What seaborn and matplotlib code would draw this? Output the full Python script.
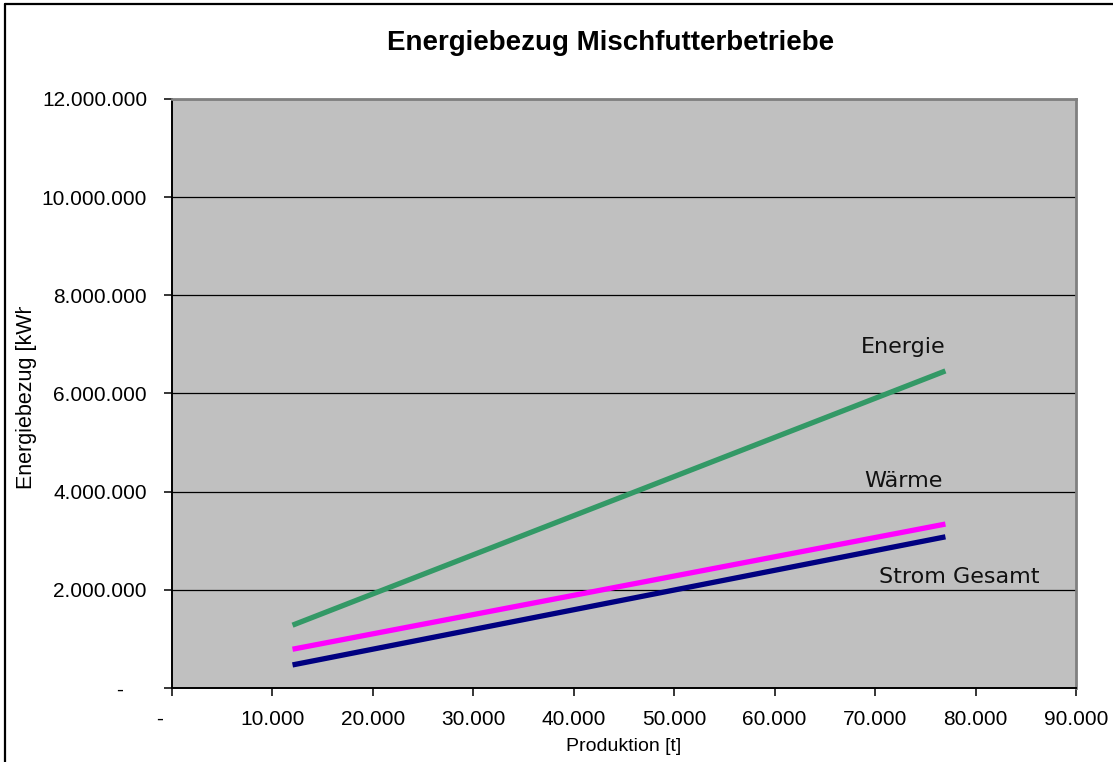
import matplotlib
matplotlib.use("Agg")
import matplotlib.pyplot as plt
from matplotlib.ticker import FuncFormatter, MultipleLocator
from matplotlib.patches import Rectangle
from matplotlib.lines import Line2D
import seaborn as sns
import pandas as pd

# Production volume (t) and energy demand (kWh) per series
produktion = [12000, 77000]
energie = [1280000, 6460000]
waerme = [790000, 3340000]
strom = [470000, 3080000]

series_names = ["Energie", "Wärme", "Strom Gesamt"]
series_values = [energie, waerme, strom]
series_colors = ["#339966", "#FF00FF", "#000080"]

title = "Energiebezug Mischfutterbetriebe"
x_label = "Produktion [t]"
y_label = "Energiebezug [kWh]"

df = pd.concat(
    [pd.DataFrame({"Produktion": produktion, "Wert": vals, "Reihe": name})
     for name, vals in zip(series_names, series_values)],
    ignore_index=True,
)

sns.set_style("white")
plt.rcParams["font.family"] = ["Liberation Sans", "DejaVu Sans"]
plt.rcParams["text.color"] = "black"
plt.rcParams["axes.labelcolor"] = "black"

fig = plt.figure(figsize=(11.13, 7.62), dpi=100)
ax = fig.add_axes([172 / 1113, 1 - 688 / 762, (1076 - 172) / 1113, (688 - 99) / 762])
ax.set_facecolor("#C0C0C0")

sns.lineplot(data=df, x="Produktion", y="Wert", hue="Reihe",
             palette=dict(zip(series_names, series_colors)),
             linewidth=3.8, legend=False, ax=ax, zorder=3)
for ln in ax.lines:
    ln.set_solid_capstyle("butt")

ax.set_xlim(0, 90000)
ax.set_ylim(0, 12000000)
ax.xaxis.set_major_locator(MultipleLocator(10000))
ax.yaxis.set_major_locator(MultipleLocator(2000000))


def de_fmt(v, pos):
    # accounting style: zero shown as a dash followed by padding
    if abs(v) < 1e-9:
        return "-    "
    return f"{int(round(v)):,}".replace(",", ".")


ax.xaxis.set_major_formatter(FuncFormatter(de_fmt))
ax.yaxis.set_major_formatter(FuncFormatter(de_fmt))

ax.grid(axis="y", color="black", linewidth=0.9, zorder=1)
ax.grid(axis="x", visible=False)
ax.set_axisbelow(True)

for side in ["left", "bottom"]:
    ax.spines[side].set_color("black")
    ax.spines[side].set_linewidth(1.4)
for side in ["top", "right"]:
    ax.spines[side].set_color("#808080")
    ax.spines[side].set_linewidth(2.0)

ax.tick_params(axis="both", which="major", direction="out", length=6,
               width=1.1, color="black", labelsize=15, labelcolor="black",
               bottom=True, left=True, top=False, right=False)
ax.tick_params(axis="y", pad=12)
ax.tick_params(axis="x", pad=10)
ax.set_xlabel(x_label, fontsize=14, labelpad=6, color="black")
ax.set_ylabel("")

# Series labels placed next to the line ends
label_font = ["DejaVu Sans"]
ax.text(72800, 6950000, "Energie", fontsize=16, family=label_font,
        ha="center", va="center", color="#111111", zorder=4)
ax.text(72800, 4220000, "Wärme", fontsize=16, family=label_font,
        ha="center", va="center", color="#111111", zorder=4)
ax.text(70400, 2260000, "Strom Gesamt", fontsize=16, family=label_font,
        ha="left", va="center", color="#111111", zorder=4)

fig.text(611 / 1113, 1 - 43 / 762, title, fontsize=20, fontweight="bold",
         ha="center", va="center", color="black")

# Y axis title, cut off at the top of its box
yl = fig.text(27 / 1113, 1 - 489 / 762, y_label, fontsize=15.5, rotation=90,
              ha="center", va="bottom", color="black")
clip = Rectangle((0, 0), 60 / 1113, 1 - 307 / 762, transform=fig.transFigure)
yl.set_clip_path(clip)
yl.set_clip_on(True)

# Chart frame
fig.add_artist(Line2D([5 / 1113, 5 / 1113], [0, 1 - 4 / 762],
                      transform=fig.transFigure, color="black", linewidth=1.6))
fig.add_artist(Line2D([5 / 1113, 1], [1 - 4 / 762, 1 - 4 / 762],
                      transform=fig.transFigure, color="black", linewidth=1.6))

fig.savefig("out.png", dpi=100)
